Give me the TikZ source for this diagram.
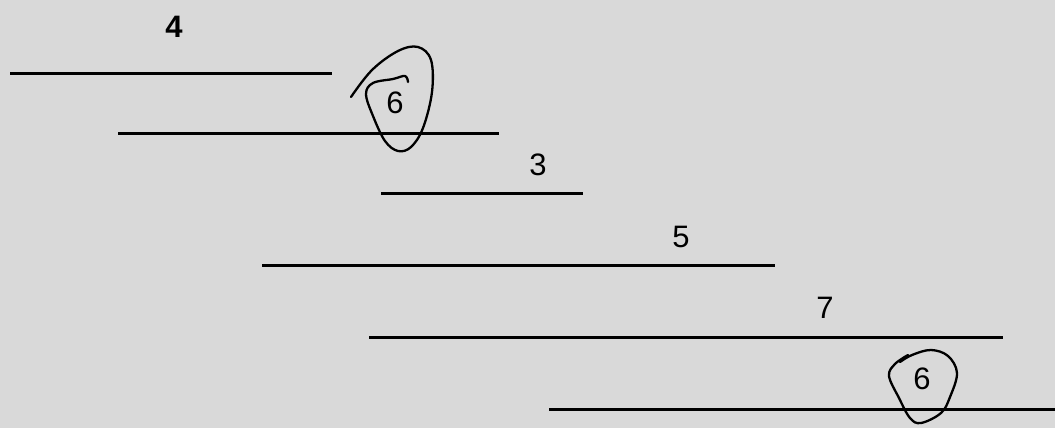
\documentclass[tikz,border=0pt]{standalone}
\usepackage{fontspec}
\setmainfont{Liberation Sans}
\usepackage{xcolor}
\usetikzlibrary{positioning}
\definecolor{paper}{HTML}{D9D9D9}

\begin{document}
\begin{tikzpicture}[x=1pt,y=-1pt,
  bar/.style={line width=3pt},
  lbl/.style={font=\fontsize{31}{34}\selectfont,inner sep=0pt},
  scrawl/.style={line width=2.3pt,line cap=round,line join=round}]
\fill[paper] (0,0) rectangle (1055,428);
\useasboundingbox (0,0) rectangle (1055,428);
% segments
\coordinate (a1) at (10,74);   \coordinate (a2) at (332,74);
\coordinate (b1) at (118,133); \coordinate (b2) at (499,133);
\coordinate (c1) at (381,193); \coordinate (c2) at (583,193);
\coordinate (d1) at (262,265); \coordinate (d2) at (775,265);
\coordinate (e1) at (369,337); \coordinate (e2) at (1003,337);
\coordinate (f1) at (549,409); \coordinate (f2) at (1055,409);
\draw[bar] (a1) -- (a2);
\draw[bar] (b1) -- (b2);
\draw[bar] (c1) -- (c2);
\draw[bar] (d1) -- (d2);
\draw[bar] (e1) -- (e2);
\draw[bar] (f1) -- (f2);
% labels
\node[lbl,font=\fontsize{31}{34}\selectfont\bfseries] (four) at (174,27) {4};
\node[lbl] (sixA) at (395,103) {6};
\node[lbl] (three) at (538,165) {3};
\node[lbl] (five) at (681,237) {5};
\node[lbl] (seven) at (825,308) {7};
\node[lbl] (sixB) at (922,379) {6};
% hand drawn circles
\draw[scrawl] plot[smooth,tension=0.6] coordinates {(351,97) (372,70) (398,51) (418,47) (431,60) (432,92) (423,128) (411,147) (398,151) (385,141) (373,116) (366,94) (373,83) (393,79) (405,76) (408,82)};
\draw[scrawl] plot[smooth,tension=0.6] coordinates {(908,355) (895,364) (889,376) (899,398) (910,418) (921,423) (941,413) (950,397) (957,373) (948,356) (931,350) (912,355) (900,362)};
\end{tikzpicture}
\end{document}
